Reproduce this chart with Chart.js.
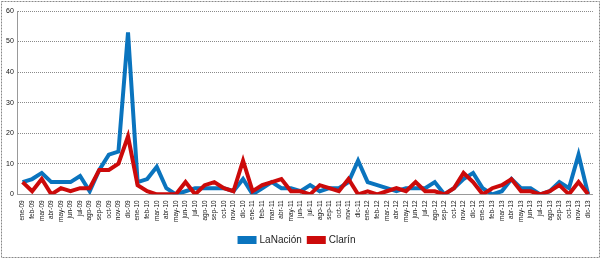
<!DOCTYPE html>
<html>
<head>
<meta charset="utf-8">
<script src="https://cdn.jsdelivr.net/npm/chart.js@4/dist/chart.umd.min.js"></script>
<style>
html,body{margin:0;padding:0;background:#fff;}
#wrap{position:relative;width:602px;height:260px;}
</style>
</head>
<body>
<div id="wrap"><canvas id="c" width="602" height="260"></canvas></div>
<script>
const months = ['ene','feb','mar','abr','may','jun','jul','ago','sep','oct','nov','dic'];
const years = ['09','10','11','12','13'];
const categories = [];
years.forEach(y => months.forEach(m => categories.push(m + '-' + y)));

const laNacion = [4,5,7,4,4,4,6,1,8,13,14,53,
                  4,5,9,2,0,1,2,2,2,2,1,5,
                  0,2,4,2,2,1,3,1,2,2,4,11,
                  4,3,2,1,2,2,2,4,0,2,5,7,
                  2,0,1,5,2,2,0,1,4,2,13,0];
const clarin =   [4,1,5,0,2,1,2,2,8,8,10,19,
                  3,1,0,0,0,4,0,3,4,2,1,11,
                  1,3,4,5,1,1,0,3,2,1,5,0,
                  1,0,1,2,1,4,1,1,0,2,7,4,
                  0,2,3,5,1,1,0,1,3,0,4,0];
const yTicks = [0,10,20,30,40,50,60];

const borderPlugin = {
  id: 'outerBorder',
  afterDraw(chart) {
    const ctx = chart.ctx;
    ctx.save();
    ctx.strokeStyle = '#888';
    ctx.lineWidth = 1;
    ctx.setLineDash([2,1]);
    ctx.strokeRect(1.5, 1.5, 598, 256);
    ctx.restore();
  }
};

new Chart(document.getElementById('c'), {
  type: 'line',
  data: {
    labels: categories,
    datasets: [
      { label: 'LaNación', data: laNacion, borderColor: '#0A74BE', backgroundColor: '#0A74BE',
        borderWidth: 4, pointRadius: 0, tension: 0, order: 1 },
      { label: 'Clarín', data: clarin, borderColor: '#CC0A0A', backgroundColor: '#CC0A0A',
        borderWidth: 4, pointRadius: 0, tension: 0, order: 0 }
    ]
  },
  options: {
    responsive: false,
    animation: false,
    layout: { padding: { left: 2, right: 9, top: 11, bottom: 5 } },
    plugins: {
      tooltip: { enabled: false },
      legend: {
        position: 'bottom',
        labels: {
          sort: (a, b) => a.datasetIndex - b.datasetIndex,
          boxWidth: 15, boxHeight: 4,
          font: { family: 'Liberation Sans', size: 10 },
          color: '#222', padding: 7
        }
      }
    },
    scales: {
      x: {
        type: 'category',
        offset: true,
        grid: { display: false, drawTicks: false },
        border: { display: true, color: '#999', width: 1 },
        ticks: {
          autoSkip: false, minRotation: 90, maxRotation: 90,
          font: { family: 'Liberation Sans', size: 6.5 }, color: '#111', padding: 6
        }
      },
      y: {
        min: 0, max: 60,
        afterBuildTicks: (s) => { s.ticks = yTicks.map(v => ({ value: v })); },
        grid: { color: '#8a8a8a', drawTicks: false },
        border: { display: true, color: '#999', dash: [1,1] },
        ticks: { font: { family: 'Liberation Sans', size: 7 }, color: '#111', padding: 4 }
      }
    }
  },
  plugins: [borderPlugin]
});
</script>
</body>
</html>
